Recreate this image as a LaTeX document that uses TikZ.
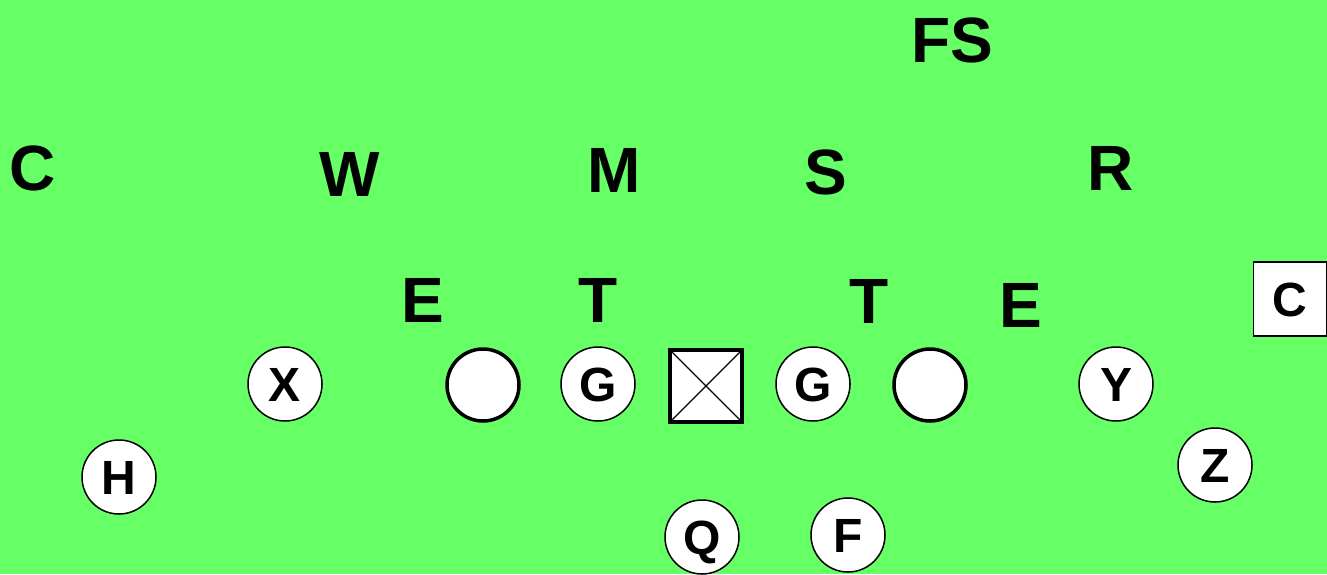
\documentclass[tikz,border=0pt]{standalone}
\usepackage{fontspec}
\setmainfont{Liberation Sans}
\begin{document}
\begin{tikzpicture}[x=1pt,y=-1pt,
  big/.style={font=\fontsize{64}{64}\selectfont\bfseries, text height=45.8pt, text depth=0pt, inner sep=0pt},
  player/.style={circle, draw=black, fill=white, line width=1.5pt, minimum size=74pt, inner sep=0pt,
     font=\fontsize{48}{48}\selectfont\bfseries, text height=34.4pt, text depth=0pt},
  lineman/.style={circle, draw=black, fill=white, line width=3.5pt, minimum size=72pt, inner sep=0pt},
  centerbox/.style={rectangle, draw=black, fill=white, line width=3.5pt, minimum size=72pt, inner sep=0pt},
  cbbox/.style={rectangle, draw=black, fill=white, line width=1.5pt, minimum width=73pt, minimum height=74pt, inner sep=0pt,
     font=\fontsize{48}{48}\selectfont\bfseries, text height=34.4pt, text depth=0pt}]
\fill[fill={rgb,255:red,102;green,255;blue,102}] (0,0) rectangle (1327,574);
\useasboundingbox (0,0) rectangle (1327,574);
% defense
\node[big] (fs) at (952,40) {FS};
\node[big] (cl) at (33,168) {C};
\node[big] (w) at (350,174) {W};
\node[big] (m) at (614,170) {M};
\node[big] (s) at (826,172) {S};
\node[big] (r) at (1111,168) {R};
\node[big] (el) at (423,300) {E};
\node[big] (tl) at (598,300) {T};
\node[big] (tr) at (869,301) {T};
\node[big] (er) at (1021,305) {E};
\node[cbbox] (cr) at (1290,299) {C};
% offense
\node[player] (h) at (119,477) {H};
\node[player] (x) at (285,384) {X};
\node[lineman] (lt) at (483,385) {};
\node[player] (gl) at (598,384) {G};
\node[centerbox] (c) at (706,386) {};
\draw[line width=1.2pt] (c.north west) -- (c.south east) (c.north east) -- (c.south west);
\node[player] (gr) at (813,384) {G};
\node[lineman] (rt) at (930,385) {};
\node[player] (y) at (1116,384) {Y};
\node[player] (z) at (1215,465) {Z};
\node[player] (q) at (702,537) {Q};
\node[player] (f) at (848,535) {F};
\end{tikzpicture}
\end{document}
